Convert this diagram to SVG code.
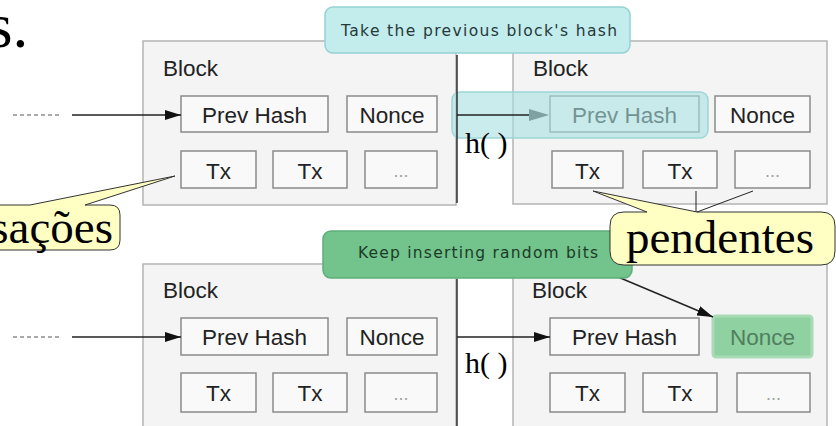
<svg xmlns="http://www.w3.org/2000/svg" width="836" height="426" viewBox="0 0 836 426">
<defs>
<style>
.blk{fill:#f4f4f4;stroke:#b4b4b4;stroke-width:1.5}
.box{fill:#f9f9f9;stroke:#8a8a8a;stroke-width:1.5}
.lbl{font-family:"Liberation Sans",Arial,sans-serif;font-size:22.5px;fill:#222}
.mid{text-anchor:middle}
.dots{font-family:"Liberation Sans",Arial,sans-serif;font-size:18px;fill:#a0a0a0;text-anchor:middle}
.ser{font-family:"Liberation Serif","Times New Roman",serif;fill:#000}
.call{font-family:"DejaVu Sans",Verdana,sans-serif;font-size:15.5px}
.ln{stroke:#222;stroke-width:1.4;fill:none}
.yel{fill:#ffffc4;stroke:#333;stroke-width:1}
</style>
<marker id="ah" markerWidth="16" markerHeight="10" refX="16" refY="5" orient="auto" markerUnits="userSpaceOnUse">
<path d="M0,0 L16,5 L0,10 Z" fill="#111"/>
</marker>
</defs>
<rect width="836" height="426" fill="#fff"/>

<text class="ser" x="-12" y="47" font-size="63">s.</text>

<g id="blockA">
<rect class="blk" x="143" y="41" width="313" height="164"/>
<text class="lbl" x="163" y="76">Block</text>
<rect class="box" x="181" y="96" width="147" height="36"/>
<text class="lbl mid" x="254.5" y="123">Prev Hash</text>
<rect class="box" x="347" y="96" width="90" height="36"/>
<text class="lbl mid" x="392" y="123">Nonce</text>
<rect class="box" x="181" y="151" width="75" height="37"/>
<text class="lbl mid" x="218.5" y="178.5">Tx</text>
<rect class="box" x="273" y="151" width="74" height="37"/>
<text class="lbl mid" x="310" y="178.5">Tx</text>
<rect class="box" x="365" y="151" width="72" height="37"/>
<text class="dots" x="401" y="177">...</text>
</g>

<g id="blockB">
<rect class="blk" x="513" y="41" width="314" height="163"/>
<text class="lbl" x="533" y="76">Block</text>
<rect class="box" x="550" y="96" width="149" height="36"/>
<text class="lbl mid" x="624.5" y="123">Prev Hash</text>
<rect class="box" x="715" y="96" width="95" height="36"/>
<text class="lbl mid" x="762.5" y="123">Nonce</text>
<rect class="box" x="552" y="151" width="71" height="37"/>
<text class="lbl mid" x="587.5" y="178.5">Tx</text>
<rect class="box" x="643" y="151" width="74" height="37"/>
<text class="lbl mid" x="680" y="178.5">Tx</text>
<rect class="box" x="735" y="151" width="75" height="37"/>
<text class="dots" x="772.5" y="177">...</text>
</g>

<g id="blockC">
<rect class="blk" x="143" y="264" width="313" height="170"/>
<text class="lbl" x="163" y="298">Block</text>
<rect class="box" x="181" y="318" width="147" height="37"/>
<text class="lbl mid" x="254.5" y="345">Prev Hash</text>
<rect class="box" x="347" y="318" width="90" height="37"/>
<text class="lbl mid" x="392" y="345">Nonce</text>
<rect class="box" x="181" y="373" width="75" height="39"/>
<text class="lbl mid" x="218.5" y="401">Tx</text>
<rect class="box" x="273" y="373" width="74" height="39"/>
<text class="lbl mid" x="310" y="401">Tx</text>
<rect class="box" x="365" y="373" width="72" height="39"/>
<text class="dots" x="401" y="400">...</text>
</g>

<g id="blockD">
<rect class="blk" x="513" y="263" width="314" height="171"/>
<text class="lbl" x="532" y="298">Block</text>
<rect class="box" x="550" y="318" width="149" height="37"/>
<text class="lbl mid" x="624.5" y="345">Prev Hash</text>
<rect x="713" y="316" width="99" height="41" rx="3" fill="#8fd1a1" stroke="#a9dbb6" stroke-width="3"/>
<text class="lbl mid" x="762.5" y="345" style="fill:#4f7f5e">Nonce</text>
<rect class="box" x="550" y="373" width="75" height="39"/>
<text class="lbl mid" x="587.5" y="401">Tx</text>
<rect class="box" x="643" y="373" width="74" height="39"/>
<text class="lbl mid" x="680" y="401">Tx</text>
<rect class="box" x="737" y="373" width="73" height="39"/>
<text class="dots" x="773.5" y="400">...</text>
</g>

<g id="connectors">
<line x1="13" y1="115" x2="62" y2="115" stroke="#555" stroke-width="1" stroke-dasharray="4 3"/>
<line class="ln" x1="72" y1="115" x2="181" y2="115" marker-end="url(#ah)"/>
<line x1="13" y1="337" x2="62" y2="337" stroke="#555" stroke-width="1" stroke-dasharray="4 3"/>
<line class="ln" x1="72" y1="337" x2="181" y2="337" marker-end="url(#ah)"/>
<polygon points="529,109 549,115 529,121" fill="#444"/>
<rect id="overlay" x="452" y="92" width="256" height="46" rx="8" fill="#a9dfdf" fill-opacity="0.6" stroke="#9dd6d6" stroke-width="1.5"/>
<polyline class="ln" points="457,55 457,203"/>
<line class="ln" x1="457" y1="115" x2="529" y2="115"/>
<polyline class="ln" points="457,279 457,426"/>
<line class="ln" x1="457" y1="337" x2="550" y2="337" marker-end="url(#ah)"/>
<line class="ln" x1="618" y1="277" x2="713" y2="317" stroke-width="1.2" marker-end="url(#ah)"/>
<text class="ser" x="465" y="153" font-size="30">h( )</text>
<text class="ser" x="465" y="373" font-size="30">h( )</text>
</g>

<g id="calloutTop">
<rect x="325" y="7" width="305" height="46" rx="8" fill="#c3ecec" stroke="#94d2d2" stroke-width="1.5"/>
<text class="call" x="341" y="36" textLength="276" fill="#26393a">Take the previous block's hash</text>
</g>

<g id="calloutGreen">
<rect x="323" y="231" width="309" height="47" rx="8" fill="#72c38c" stroke="#5eae78" stroke-width="1.5"/>
<text class="call" x="358" y="258" textLength="240" fill="#1d3b27">Keep inserting random bits</text>
</g>

<g id="calloutTransacoes">
<path class="yel" d="M-10,205 L30,205 L175,176 L85,205 L110,205 Q120,205 120,215 L120,240 Q120,250 110,250 L-10,250 Z"/>
<text class="ser" x="113" y="243" font-size="47" text-anchor="end">sações</text>
</g>

<g id="calloutPendentes">
<path class="yel" d="M624,212 L647,212 L593,191 L697,212 L821,212 Q835,212 835,226 L835,251 Q835,265 821,265 L624,265 Q610,265 610,251 L610,226 Q610,212 624,212 Z"/>
<line x1="696" y1="191" x2="696" y2="212" stroke="#222" stroke-width="1"/>
<line x1="753" y1="191" x2="697" y2="212" stroke="#222" stroke-width="1"/>
<text class="ser" x="626" y="253" font-size="47">pendentes</text>
</g>
</svg>
